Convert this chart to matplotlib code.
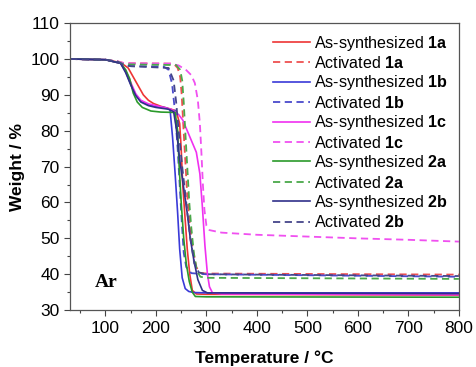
import matplotlib
matplotlib.use("Agg")
import matplotlib.pyplot as plt
from matplotlib.ticker import MultipleLocator

plt.rcParams['font.family'] = ['Liberation Sans', 'DejaVu Sans']
plt.rcParams['mathtext.fontset'] = 'custom'
plt.rcParams['mathtext.rm'] = 'Liberation Sans'
plt.rcParams['mathtext.bf'] = 'Liberation Sans:bold'

# ---- data (temperature in degC, weight in %) ----
t_as_1a = [30, 100, 130, 145, 155, 165, 175, 185, 195, 210, 230, 240, 247, 250, 253, 257, 262, 267, 272, 280, 300, 800]
w_as_1a = [100, 99.8, 99.0, 97.5, 95.0, 92.5, 90.0, 88.5, 87.6, 86.8, 86.0, 85.5, 82.0, 75.0, 65.0, 57.0, 47.0, 40.0, 35.5, 34.5, 34.4, 34.2]

t_act_1a = [30, 100, 125, 135, 150, 235, 243, 248, 251, 254, 258, 262, 267, 273, 280, 287, 300, 800]
w_act_1a = [100, 99.8, 99.3, 98.9, 98.8, 98.7, 97.5, 95.0, 90.0, 82.0, 72.0, 62.0, 54.0, 47.0, 42.0, 40.4, 40.2, 39.9]

t_as_1b = [30, 100, 130, 140, 150, 160, 170, 185, 200, 220, 228, 233, 238, 243, 247, 252, 258, 265, 275, 300, 800]
w_as_1b = [100, 99.8, 98.8, 96.5, 93.0, 90.0, 88.3, 87.2, 86.8, 86.4, 85.8, 78.0, 68.0, 57.0, 47.0, 39.0, 36.0, 35.2, 34.9, 34.8, 34.8]

t_act_1b = [30, 100, 125, 135, 150, 215, 225, 232, 238, 243, 247, 251, 255, 260, 270, 300, 800]
w_act_1b = [100, 99.8, 99.2, 98.4, 98.0, 97.9, 97.0, 93.0, 85.0, 75.0, 65.0, 55.0, 46.0, 42.0, 40.3, 40.0, 39.3]

t_as_1c = [30, 100, 130, 140, 150, 160, 170, 185, 200, 230, 245, 253, 265, 280, 287, 292, 297, 302, 306, 312, 330, 800]
w_as_1c = [100, 99.8, 98.8, 96.8, 93.5, 90.3, 88.5, 87.5, 87.0, 86.0, 84.5, 83.0, 79.0, 74.0, 68.0, 58.7, 48.0, 40.0, 36.5, 34.8, 34.5, 34.3]

t_act_1c = [30, 100, 125, 135, 150, 230, 245, 260, 270, 277, 283, 287, 290, 293, 296, 300, 306, 330, 400, 500, 600, 700, 800]
w_act_1c = [100, 99.8, 99.3, 98.9, 98.8, 98.7, 98.2, 96.9, 95.5, 93.3, 88.5, 82.0, 74.0, 65.0, 58.0, 53.5, 52.3, 51.6, 51.0, 50.5, 50.0, 49.6, 49.1]

t_as_2a = [30, 100, 130, 140, 148, 155, 163, 173, 190, 210, 238, 243, 246, 250, 255, 260, 266, 272, 278, 300, 800]
w_as_2a = [100, 99.8, 98.8, 97.0, 94.5, 90.5, 88.0, 86.5, 85.5, 85.2, 85.1, 80.0, 70.0, 60.0, 50.0, 43.0, 38.0, 35.0, 33.8, 33.7, 33.6]

t_act_2a = [30, 100, 125, 135, 150, 240, 248, 252, 255, 258, 262, 266, 270, 275, 281, 288, 300, 800]
w_act_2a = [100, 99.8, 99.2, 98.6, 98.5, 98.3, 97.0, 94.0, 88.0, 80.0, 70.0, 60.0, 53.0, 46.0, 41.0, 39.3, 39.0, 38.7]

t_as_2b = [30, 100, 130, 140, 150, 160, 170, 185, 200, 225, 235, 240, 247, 255, 262, 268, 275, 283, 292, 302, 800]
w_as_2b = [100, 99.8, 98.8, 96.2, 92.8, 89.8, 88.0, 87.0, 86.5, 86.0, 85.3, 81.0, 72.0, 64.0, 57.0, 50.0, 44.0, 38.5, 35.5, 34.8, 34.6]

t_act_2b = [30, 100, 125, 135, 150, 225, 235, 240, 245, 252, 260, 268, 276, 285, 300, 800]
w_act_2b = [100, 99.8, 99.2, 98.4, 98.0, 97.5, 94.0, 88.0, 80.0, 70.0, 60.0, 50.0, 43.0, 40.5, 40.0, 39.5]

samples = ['1a', '1b', '1c', '2a', '2b']
x_ticks = [100, 200, 300, 400, 500, 600, 700, 800]
y_ticks = [30, 40, 50, 60, 70, 80, 90, 100, 110]

# ---- styling ----
colors = {'1a': '#ee3535', '1b': '#3a3ad8', '1c': '#f030f0', '2a': '#2a9a2a', '2b': '#30308a'}
act_colors = {'1a': '#ee5050', '1b': '#4a4acc', '1c': '#f050f0', '2a': '#4aa84a', '2b': '#45458a'}
series = {
    '1a': (t_as_1a, w_as_1a, t_act_1a, w_act_1a),
    '1b': (t_as_1b, w_as_1b, t_act_1b, w_act_1b),
    '1c': (t_as_1c, w_as_1c, t_act_1c, w_act_1c),
    '2a': (t_as_2a, w_as_2a, t_act_2a, w_act_2a),
    '2b': (t_as_2b, w_as_2b, t_act_2b, w_act_2b),
}

fig = plt.figure(figsize=(4.77, 3.67), dpi=100)
ax = fig.add_axes([0.147, 0.155, 0.815, 0.782])

for s in samples:
    ta, wa, tb, wb = series[s]
    ax.plot(ta, wa, color=colors[s], lw=1.2, label=r'As-synthesized $\mathbf{%s}$' % s)
    ax.plot(tb, wb, color=act_colors[s], lw=1.3, linestyle=(0, (4, 2.5)),
            label=r'Activated $\mathbf{%s}$' % s)

ax.set_xlim(30, 800)
ax.set_ylim(30, 110)
ax.set_xticks(x_ticks)
ax.set_yticks(y_ticks)
ax.xaxis.set_minor_locator(MultipleLocator(50))
ax.yaxis.set_minor_locator(MultipleLocator(5))
ax.tick_params(which='both', direction='out', labelsize=12.5, width=0.8, color='#444444')
ax.tick_params(which='major', length=4)
ax.tick_params(which='minor', length=2.5)
for sp in ax.spines.values():
    sp.set_color('#555555')
    sp.set_linewidth(0.9)

ax.set_xlabel('Temperature / °C', fontsize=12.5, fontweight='bold', labelpad=11)
ax.set_ylabel('Weight / %', fontsize=12.5, fontweight='bold', labelpad=4)

ax.text(78, 37.6, 'Ar', family=['Liberation Serif', 'DejaVu Serif'], fontweight='bold',
        fontsize=14, ha='left', va='center')

leg = ax.legend(loc='upper right', bbox_to_anchor=(1.0, 1.0), frameon=False,
                fontsize=11.6, handlelength=2.3, handletextpad=0.3,
                labelspacing=0.15, borderaxespad=0.25)

fig.savefig('out.png', dpi=100)
